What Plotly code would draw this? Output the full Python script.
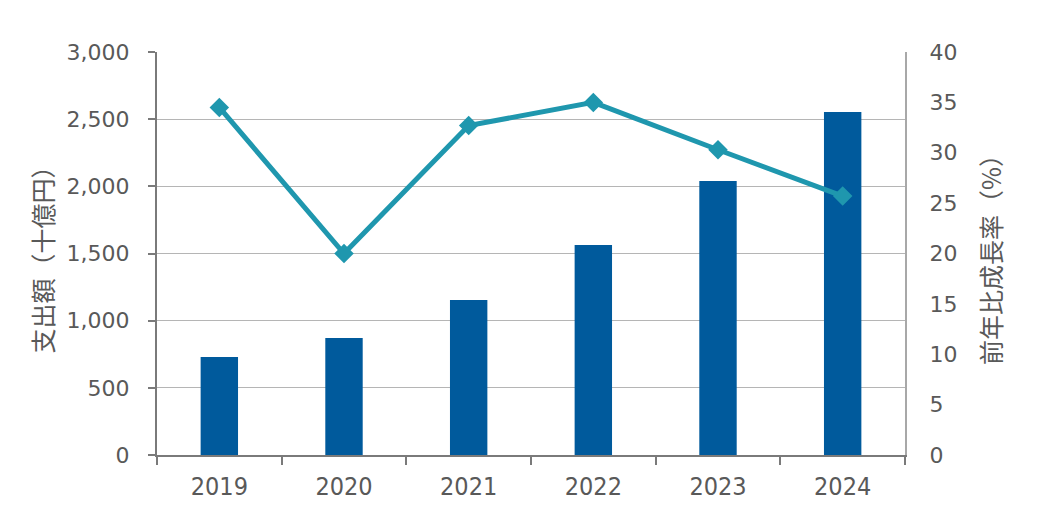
import plotly.graph_objects as go

years = ["2019", "2020", "2021", "2022", "2023", "2024"]
spending = [730, 871, 1154, 1563, 2040, 2554]
growth = [34.5, 20.0, 32.7, 35.0, 30.3, 25.7]

font_tick = dict(family="DejaVu Sans", size=22, color="#595959")
font_xtick = dict(family="DejaVu Sans Condensed", size=25, color="#595959")
font_title = dict(family="Noto Sans CJK JP", size=25, color="#595959")

fig = go.Figure()
fig.add_trace(go.Bar(x=years, y=spending, marker=dict(color="#005a9c", line=dict(width=0)),
                     width=0.3, yaxis="y"))
fig.add_trace(go.Scatter(x=years, y=growth, mode="lines+markers", yaxis="y2",
                         line=dict(color="#1f97ae", width=5),
                         marker=dict(symbol="diamond", size=15, color="#1f97ae")))

fig.update_layout(
    width=1038, height=529,
    margin=dict(l=157, r=133, t=52, b=74),
    paper_bgcolor="white", plot_bgcolor="white",
    showlegend=False,
    bargap=0.7,
    xaxis=dict(type="category", showline=True, linecolor="#7a7a7a", linewidth=2,
               ticks="outside", tickson="boundaries", ticklen=8, tickcolor="#7a7a7a", tickwidth=2,
               tickfont=font_xtick, showgrid=False, ticklabelstandoff=8),
    yaxis=dict(range=[0, 3000], dtick=500, tickformat=",", showline=True, linecolor="#7a7a7a",
               linewidth=2, ticks="outside", ticklen=7, tickcolor="#7a7a7a", tickwidth=2,
               showgrid=True, gridcolor="#b5b5b5", gridwidth=1, tickfont=font_tick,
               ticklabelstandoff=14, zeroline=False,
               title=dict(text="支出額（十億円）", font=font_title, standoff=6)),
    yaxis2=dict(range=[0, 40], dtick=5, overlaying="y", side="right", showline=True,
                linecolor="#a8a8a8", linewidth=2, ticks="", showgrid=False, zeroline=False,
                tickfont=font_tick, ticklabelstandoff=18,
                title=dict(text="前年比成長率（%）", font=font_title, standoff=27)),
)

fig.write_html("out.html")
